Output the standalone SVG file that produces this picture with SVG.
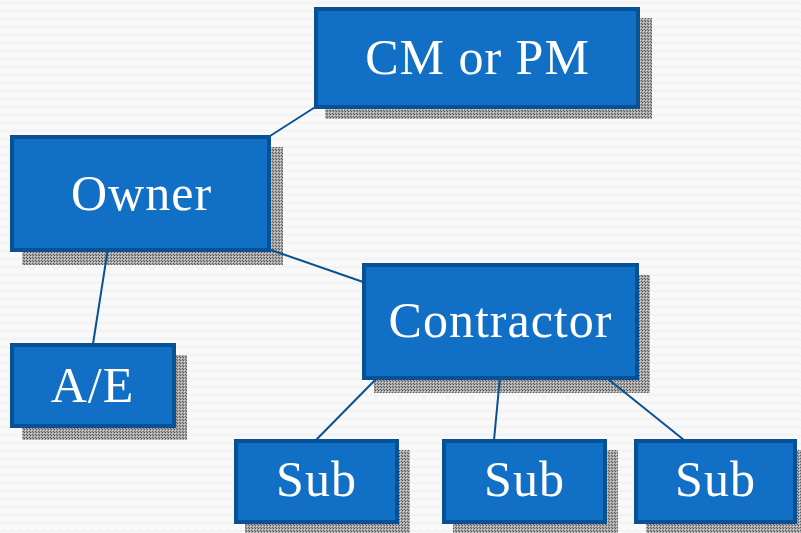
<svg xmlns="http://www.w3.org/2000/svg" width="801" height="533" viewBox="0 0 801 533">
  <defs>
    <pattern id="checker" width="3" height="3" patternUnits="userSpaceOnUse">
      <rect width="3" height="3" fill="#a8a8a8"/>
      <rect width="1" height="1" fill="#555555"/>
      <rect x="2" y="2" width="1" height="1" fill="#5e5e5e"/>
      <rect x="1" y="1" width="1" height="1" fill="#d8d8d8"/>
    </pattern>
    <pattern id="bg" width="8" height="8" patternUnits="userSpaceOnUse">
      <rect width="8" height="8" fill="#f8f8f8"/>
      <path d="M0 4 L4 2 L8 4" fill="none" stroke="#ededed" stroke-width="1"/>
    </pattern>
  </defs>
  <style>
    .shadow { fill: url(#checker); }
    .box { fill: #116fc6; stroke: #0a5193; stroke-width: 4; }
    .label { fill: #ffffff; font-family: "Liberation Serif", "DejaVu Serif", serif; font-size: 50px; letter-spacing: 1px; text-anchor: middle; }
    .conn { stroke: #0a5193; stroke-width: 2; fill: none; }
  </style>
  <rect width="801" height="533" fill="url(#bg)"/>
  <g id="shadows">
    <rect class="shadow" x="325" y="18" width="327" height="101"/>
    <rect class="shadow" x="22" y="147" width="261" height="118"/>
    <rect class="shadow" x="22" y="355" width="165" height="85"/>
    <rect class="shadow" x="374" y="275" width="276" height="118"/>
    <rect class="shadow" x="245" y="450" width="165" height="83"/>
    <rect class="shadow" x="453" y="450" width="165" height="83"/>
    <rect class="shadow" x="646" y="450" width="165" height="83"/>
  </g>
  <g id="connectors">
    <line class="conn" x1="270" y1="136" x2="320" y2="104"/>
    <line class="conn" x1="271" y1="250" x2="366" y2="283"/>
    <line class="conn" x1="108" y1="248" x2="93" y2="344"/>
    <line class="conn" x1="378" y1="377" x2="316" y2="440"/>
    <line class="conn" x1="500" y1="377" x2="494" y2="440"/>
    <line class="conn" x1="608" y1="379" x2="684" y2="440"/>
  </g>
  <g id="cm-pm">
    <rect class="box" x="316" y="9" width="322" height="98"/>
    <text class="label" x="477.5" y="74">CM or PM</text>
  </g>
  <g id="owner">
    <rect class="box" x="12" y="137" width="257" height="113"/>
    <text class="label" x="141.5" y="210">Owner</text>
  </g>
  <g id="ae">
    <rect class="box" x="12" y="345" width="162" height="81"/>
    <text class="label" x="92.5" y="402">A/E</text>
  </g>
  <g id="contractor">
    <rect class="box" x="364" y="265" width="273" height="113"/>
    <text class="label" x="500.5" y="337">Contractor</text>
  </g>
  <g id="sub1">
    <rect class="box" x="236" y="441" width="161" height="81"/>
    <text class="label" x="316.5" y="496">Sub</text>
  </g>
  <g id="sub2">
    <rect class="box" x="444" y="441" width="161" height="81"/>
    <text class="label" x="524.5" y="496">Sub</text>
  </g>
  <g id="sub3">
    <rect class="box" x="636" y="441" width="159" height="81"/>
    <text class="label" x="715.5" y="496">Sub</text>
  </g>
</svg>
